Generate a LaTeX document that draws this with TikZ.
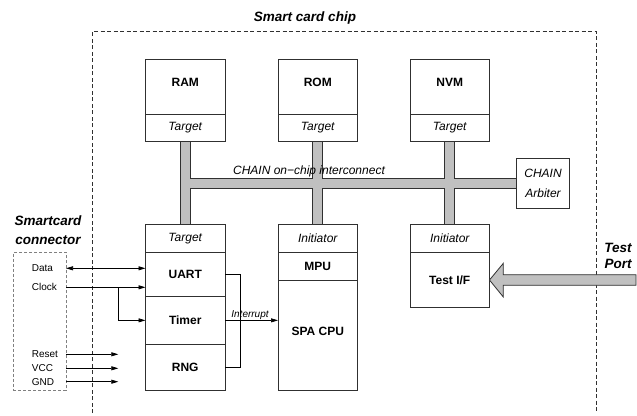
\documentclass[tikz,border=0pt]{standalone}
\usepackage{fontspec}
\setmainfont{Liberation Sans}
\usetikzlibrary{arrows.meta,calc}
\definecolor{busgray}{HTML}{C0C0C0}
\definecolor{linegray}{HTML}{303030}
\begin{document}
\begin{tikzpicture}[x=1pt,y=-1pt,
  part/.style={draw=linegray, line width=0.8pt, inner sep=0pt, outer sep=0pt, anchor=north west, minimum width=79.5pt, font=\fontsize{12}{14}\selectfont\bfseries},
  tpart/.style={part, font=\fontsize{12}{14}\selectfont\itshape},
  raised/.style={text depth=8pt},
  heading/.style={font=\fontsize{13.5}{18.6}\selectfont\bfseries\itshape, align=center, inner sep=0pt},
  sig/.style={font=\fontsize{10}{12}\selectfont, inner sep=0pt, anchor=west},
  wire/.style={draw=black, line width=0.7pt},
  tip/.style={-{Triangle[length=7pt,width=4pt]}},
  dtip/.style={{Triangle[length=7pt,width=4pt]}-{Triangle[length=7pt,width=4pt]}}]
\useasboundingbox (0,0) rectangle (637,415);

% chip boundary
\draw[linegray, line width=0.7pt, dash pattern=on 4pt off 2.5pt] (92,413) -- (92,31.5) -- (596,31.5) -- (596,413);
\node[heading] (title) at (305,18) {Smart card chip};

% bus
\draw[draw=linegray, fill=busgray, line width=0.8pt]
  (180.25,141.7) -- (190.25,141.7) -- (190.25,178) -- (312.75,178) -- (312.75,141.7) -- (322.75,141.7)
  -- (322.75,178) -- (444.75,178) -- (444.75,141.7) -- (454.75,141.7) -- (454.75,178) -- (516.7,178)
  -- (516.7,188) -- (454.75,188) -- (454.75,224.3) -- (444.75,224.3) -- (444.75,188) -- (322.75,188)
  -- (322.75,224.3) -- (312.75,224.3) -- (312.75,188) -- (190.25,188) -- (190.25,224.3) -- (180.25,224.3) -- cycle;
\node[font=\fontsize{12}{14}\selectfont\itshape, inner sep=0pt] (chainlbl) at (309,171.5) {CHAIN on−chip interconnect};

% top memories
\node[part, raised, minimum height=55pt] (ram) at (145.5,59.3) {RAM};
\node[tpart, minimum height=27.4pt] (ramt) at (145.5,114.3) {Target};
\node[part, raised, minimum height=55pt] (rom) at (278,59.3) {ROM};
\node[tpart, minimum height=27.4pt] (romt) at (278,114.3) {Target};
\node[part, raised, minimum height=55pt] (nvm) at (410,59.3) {NVM};
\node[tpart, minimum height=27.4pt] (nvmt) at (410,114.3) {Target};

% arbiter
\node[draw=linegray, line width=0.8pt, minimum width=52.6pt, minimum height=50pt, inner sep=0pt, outer sep=0pt,
  font=\fontsize{12}{19.3}\selectfont\itshape, align=center] (arb) at (543,183.3) {CHAIN\\Arbiter};

% bottom stacks
\node[tpart, minimum height=28pt] (tgt) at (145.5,224.3) {Target};
\node[part, minimum height=44.4pt] (uart) at (145.5,252.3) {UART};
\node[part, minimum height=47.3pt] (timer) at (145.5,296.7) {Timer};
\node[part, minimum height=46.7pt] (rng) at (145.5,344) {RNG};

\node[tpart, minimum height=28pt] (init) at (278,224.3) {Initiator};
\node[part, minimum height=28pt] (mpu) at (278,252.3) {MPU};
\node[part, raised, minimum height=110.4pt] (cpu) at (278,280.3) {SPA CPU};

\node[tpart, minimum height=28pt] (tinit) at (410,224.3) {Initiator};
\node[part, minimum height=55.4pt] (tif) at (410,252.3) {Test I/F};

% smartcard connector
\node[heading] (sclabel) at (48,230) {Smartcard\\connector};
\node[draw=gray, line width=0.7pt, dash pattern=on 3pt off 2pt, inner sep=0pt, outer sep=0pt, anchor=north west,
  minimum width=52.7pt, minimum height=138.4pt] (conn) at (13.3,252.3) {};
\node[sig] (data) at (31.7,268.3) {Data};
\node[sig] (clock) at (31.7,287.3) {Clock};
\node[sig] (reset) at (31.7,354.3) {Reset};
\node[sig] (vcc) at (31.7,368.3) {VCC};
\node[sig] (gnd) at (31.7,381.7) {GND};

\coordinate (br) at (118.3,0);
\draw[wire, dtip] (conn.east |- data) -- (uart.west |- data);
\draw[wire, tip] (conn.east |- clock) -- (uart.west |- clock);
\draw[wire, tip] (br |- clock) |- (timer.west);
\draw[wire, tip] (conn.east |- reset) -- (br |- reset);
\draw[wire, tip] (conn.east |- vcc) -- (br |- vcc);
\draw[wire, tip] (conn.east |- gnd) -- (br |- gnd);

% interrupt
\coordinate (irq) at (240.7,0);
\draw[wire] (uart.east) -| (irq |- rng.east) -- (rng.east);
\draw[wire, tip] (timer.east) -- (cpu.west |- timer.east);
\node[font=\fontsize{10}{12}\selectfont\itshape, inner sep=0pt] (irqlbl) at (250,315) {Interrupt};

% test port
\draw[draw=linegray, fill=busgray, line width=0.8pt] (tif.east) -- (503.3,263.3) -- (503.3,274.7) -- (636,274.7)
  -- (636,285.3) -- (503.3,285.3) -- (503.3,297) -- cycle;
\node[heading, font=\fontsize{13.5}{16}\selectfont\bfseries\itshape] (tplabel) at (618,256) {Test\\Port};
\end{tikzpicture}
\end{document}
